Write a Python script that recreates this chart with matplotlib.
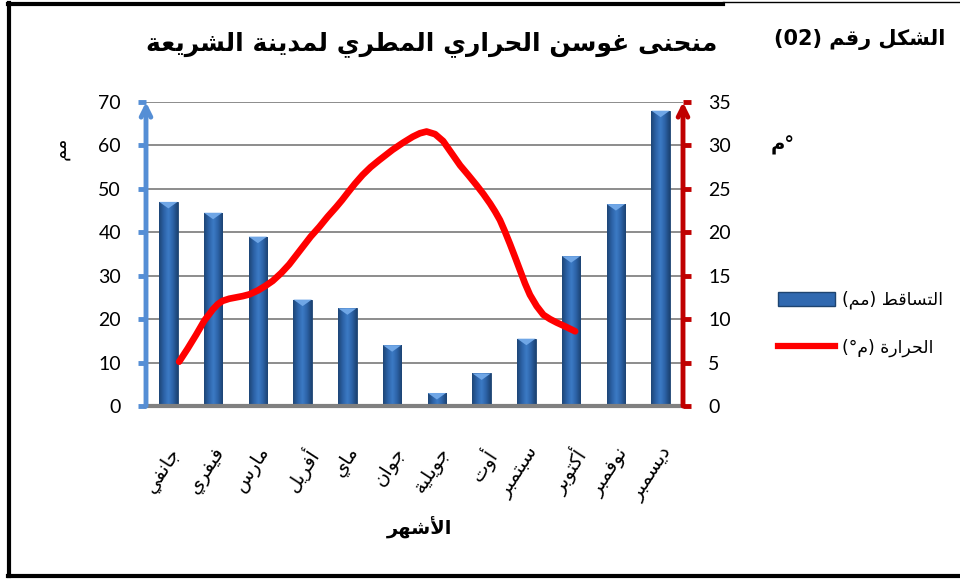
import numpy as np
import matplotlib
matplotlib.use("Agg")
import matplotlib.pyplot as plt
from matplotlib.colors import LinearSegmentedColormap
from matplotlib.patches import Rectangle, Polygon
from matplotlib.lines import Line2D

# ---------------- data ----------------
months = ["جانفي", "فيفري", "مارس", "أفريل", "ماي", "جوان",
          "جويلية", "أوت", "سبتمبر", "أكتوبر", "نوفمبر", "ديسمبر"]
precip = [47, 44.5, 39, 24.5, 22.5, 14, 3, 7.5, 15.5, 34.5, 46.5, 68]
# temperature curve as drawn (position along month axis, °C)
temp_pos = [0.24, 0.43, 0.62, 0.80, 0.99, 1.10, 1.21, 1.36, 1.51, 1.66, 1.81, 2.0,
            2.16, 2.33, 2.52, 2.70, 2.85, 3.0, 3.18, 3.37, 3.56, 3.75, 3.88, 4.0,
            4.17, 4.34, 4.52, 4.71, 4.86, 5.01, 5.24, 5.46, 5.62, 5.77, 5.96,
            6.14, 6.33, 6.52, 6.70, 6.89, 7.04, 7.19, 7.30, 7.41, 7.52, 7.63,
            7.75, 7.86, 7.97, 8.08, 8.23, 8.38, 8.53, 8.68, 8.89, 9.09]
temp_val = [5.1, 6.6, 8.2, 9.8, 11.1, 11.7, 12.1, 12.35, 12.5, 12.65, 12.85, 13.3,
            13.8, 14.4, 15.3, 16.3, 17.3, 18.3, 19.5, 20.6, 21.8, 22.9, 23.7, 24.5,
            25.6, 26.6, 27.5, 28.3, 28.9, 29.5, 30.3, 31.0, 31.4, 31.6, 31.3,
            30.5, 29.1, 27.7, 26.6, 25.4, 24.4, 23.3, 22.4, 21.4, 20.1, 18.7,
            17.1, 15.6, 14.1, 12.8, 11.5, 10.5, 10.0, 9.6, 9.1, 8.6]
left_ticks = [0, 10, 20, 30, 40, 50, 60, 70]
right_ticks = [0, 5, 10, 15, 20, 25, 30, 35]

title_txt = "منحنى غوسن الحراري المطري لمدينة الشريعة"
fig_no_txt = "الشكل رقم"
xlabel_txt = "الأشهر"
leg_p_txt = "التساقط"
leg_t_txt = "الحرارة"
mm_txt = "مم"
deg_txt = "م"

# ---------------- minimal Arabic shaping ----------------
FORMS = {
    'ا': ('\uFE8D', '\uFE8E', None, None),
    'أ': ('\uFE83', '\uFE84', None, None),
    'ب': ('\uFE8F', '\uFE90', '\uFE91', '\uFE92'),
    'ة': ('\uFE93', '\uFE94', None, None),
    'ت': ('\uFE95', '\uFE96', '\uFE97', '\uFE98'),
    'ج': ('\uFE9D', '\uFE9E', '\uFE9F', '\uFEA0'),
    'ح': ('\uFEA1', '\uFEA2', '\uFEA3', '\uFEA4'),
    'د': ('\uFEA9', '\uFEAA', None, None),
    'ر': ('\uFEAD', '\uFEAE', None, None),
    'ز': ('\uFEAF', '\uFEB0', None, None),
    'س': ('\uFEB1', '\uFEB2', '\uFEB3', '\uFEB4'),
    'ش': ('\uFEB5', '\uFEB6', '\uFEB7', '\uFEB8'),
    'ط': ('\uFEC1', '\uFEC2', '\uFEC3', '\uFEC4'),
    'ع': ('\uFEC9', '\uFECA', '\uFECB', '\uFECC'),
    'غ': ('\uFECD', '\uFECE', '\uFECF', '\uFED0'),
    'ف': ('\uFED1', '\uFED2', '\uFED3', '\uFED4'),
    'ق': ('\uFED5', '\uFED6', '\uFED7', '\uFED8'),
    'ك': ('\uFED9', '\uFEDA', '\uFEDB', '\uFEDC'),
    'ل': ('\uFEDD', '\uFEDE', '\uFEDF', '\uFEE0'),
    'م': ('\uFEE1', '\uFEE2', '\uFEE3', '\uFEE4'),
    'ن': ('\uFEE5', '\uFEE6', '\uFEE7', '\uFEE8'),
    'ه': ('\uFEE9', '\uFEEA', '\uFEEB', '\uFEEC'),
    'و': ('\uFEED', '\uFEEE', None, None),
    'ى': ('\uFEEF', '\uFEF0', None, None),
    'ي': ('\uFEF1', '\uFEF2', '\uFEF3', '\uFEF4'),
}
LAMALEF = {'ا': ('\uFEFB', '\uFEFC'), 'أ': ('\uFEF7', '\uFEF8')}


def shape(s):
    toks, i = [], 0
    while i < len(s):
        if s[i] == 'ل' and i + 1 < len(s) and s[i + 1] in LAMALEF:
            toks.append(('LA', s[i + 1])); i += 2
        else:
            toks.append(('C', s[i])); i += 1

    def joins_next(t):
        if t[0] == 'LA':
            return False
        f = FORMS.get(t[1])
        return f is not None and f[2] is not None

    def is_letter(t):
        return t[0] == 'LA' or t[1] in FORMS

    out = []
    for k, t in enumerate(toks):
        prev = toks[k - 1] if k > 0 else None
        nxt = toks[k + 1] if k + 1 < len(toks) else None
        cp = prev is not None and joins_next(prev)
        if t[0] == 'LA':
            iso, fin = LAMALEF[t[1]]
            out.append(fin if cp else iso)
            continue
        c = t[1]
        if c not in FORMS:
            out.append(c); continue
        iso, fin, ini, med = FORMS[c]
        cn = ini is not None and nxt is not None and is_letter(nxt)
        if cp and cn:
            out.append(med)
        elif cp:
            out.append(fin)
        elif cn:
            out.append(ini)
        else:
            out.append(iso)
    return ''.join(out)


def rtl(s):
    return shape(s)[::-1]


AR = ['DejaVu Sans']
NUM = ['Lato', 'DejaVu Sans']

# ---------------- figure ----------------
W, H = 960, 580
fig = plt.figure(figsize=(W / 100, H / 100), dpi=100)
fig.patch.set_facecolor('white')


def fx(px):
    return px / W


def fy(py):
    return 1 - py / H


ax = fig.add_axes([fx(146), fy(406), fx(683) - fx(146), fy(102) - fy(406)])
ax.set_xlim(-0.5, len(months) - 0.5)
ax.set_ylim(left_ticks[0], left_ticks[-1])
ax.set_facecolor('none')

for s in ['top', 'right', 'left']:
    ax.spines[s].set_visible(False)
ax.spines['bottom'].set_color('#808080')
ax.spines['bottom'].set_linewidth(3)
ax.spines['bottom'].set_zorder(6)

ax.set_axisbelow(True)
ax.yaxis.grid(True, color='#8c8c8c', lw=1.4)
ax.set_yticks(left_ticks)
ax.set_yticklabels([str(v) for v in left_ticks], family=NUM, fontsize=14)
ax.tick_params(axis='y', colors='#558ED5', length=6, width=3.5, pad=12,
               labelcolor='black')

x = np.arange(len(months))
ax.set_xticks(x)
ax.set_xticklabels([rtl(m) for m in months], family=AR, fontsize=14,
                   rotation=57, ha='right', rotation_mode='anchor')
ax.tick_params(axis='x', length=0, pad=27)

# bars with cylinder-like shading
bw = 0.41
bars = ax.bar(x, precip, width=bw, color='#2F66AC', edgecolor='#1E4470',
              linewidth=0.6, zorder=3)
cmap = LinearSegmentedColormap.from_list(
    'cyl', ['#1D4576', '#2C62A6', '#3C7BC6', '#2C62A6', '#1C4272'])
grad = np.linspace(0, 1, 64).reshape(1, -1)
for b in bars:
    x0, w, h = b.get_x(), b.get_width(), b.get_height()
    im = ax.imshow(grad, extent=[x0, x0 + w, 0, h], aspect='auto', cmap=cmap,
                   zorder=3.5, interpolation='bicubic')
    im.set_clip_path(b)
    tri = Polygon([[x0, h], [x0 + w, h], [x0 + w / 2, h - 1.5]], closed=True,
                  facecolor='#6FA6E6', edgecolor='none', zorder=4)
    ax.add_patch(tri)
ax.set_xlim(-0.5, len(months) - 0.5)
ax.set_ylim(left_ticks[0], left_ticks[-1])

# left axis arrow
ax.annotate('', xy=(0, 1.0), xytext=(0, 0), xycoords='axes fraction',
            arrowprops=dict(arrowstyle='->,head_length=0.7,head_width=0.35',
                            color='#558ED5', lw=3.5, shrinkA=0, shrinkB=0),
            zorder=7, annotation_clip=False)

# right axis
ax2 = ax.twinx()
ax2.set_ylim(right_ticks[0], right_ticks[-1])
for s in ['top', 'left', 'right', 'bottom']:
    ax2.spines[s].set_visible(False)
ax2.set_yticks(right_ticks)
ax2.set_yticklabels([str(v) for v in right_ticks], family=NUM, fontsize=14)
ax2.tick_params(axis='y', colors='#C00000', length=6, width=3.5, pad=12,
                labelcolor='black')
ax2.annotate('', xy=(1, 1.0), xytext=(1, 0), xycoords='axes fraction',
             arrowprops=dict(arrowstyle='->,head_length=0.7,head_width=0.35',
                             color='#C00000', lw=3.5, shrinkA=0, shrinkB=0),
             zorder=7, annotation_clip=False)

ax2.plot(temp_pos, temp_val, color='#FF0000', lw=4.8,
         solid_capstyle='round', solid_joinstyle='round', zorder=8)

# titles & labels
fig.text(fx(432), fy(44), rtl(title_txt), family=AR, fontsize=18,
         fontweight='bold', ha='center', va='center')
fig.text(fx(860), fy(40), '(02) ' + rtl(fig_no_txt), family=AR, fontsize=15,
         fontweight='bold', ha='center', va='center')
fig.text(fx(420), fy(528), rtl(xlabel_txt), family=AR, fontsize=14,
         fontweight='bold', ha='center', va='center')
fig.text(fx(60), fy(148), rtl(mm_txt), family=AR, fontsize=14,
         rotation=90, ha='center', va='center')
fig.text(fx(783), fy(145), rtl(deg_txt) + '°', family=AR, fontsize=14,
         fontweight='bold', ha='center', va='center')

# legend
h_bar = Rectangle((0, 0), 1, 1, facecolor='#3069B0', edgecolor='#1E4470', lw=1)
h_line = Line2D([], [], color='#FF0000', lw=4.5)
labels = ['(' + rtl(mm_txt) + ') ' + rtl(leg_p_txt),
          '(°' + rtl(deg_txt) + ') ' + rtl(leg_t_txt)]
fig.legend([h_bar, h_line], labels, loc='center left',
           bbox_to_anchor=(fx(762), fy(324)), frameon=False,
           prop=dict(family=AR, size=12.5), handlelength=3.3, handleheight=0.9,
           labelspacing=1.7, handletextpad=0.4)

# page frame
fig.add_artist(Line2D([fx(9), fx(9)], [fy(3), fy(576)], color='black', lw=3))
fig.add_artist(Line2D([fx(8), fx(723)], [fy(4), fy(4)], color='black', lw=3))
fig.add_artist(Line2D([fx(723), fx(960)], [fy(2), fy(2)], color='black', lw=1))
fig.add_artist(Line2D([fx(8), fx(960)], [fy(576), fy(576)], color='black', lw=3))

fig.savefig('out.png', dpi=100)
